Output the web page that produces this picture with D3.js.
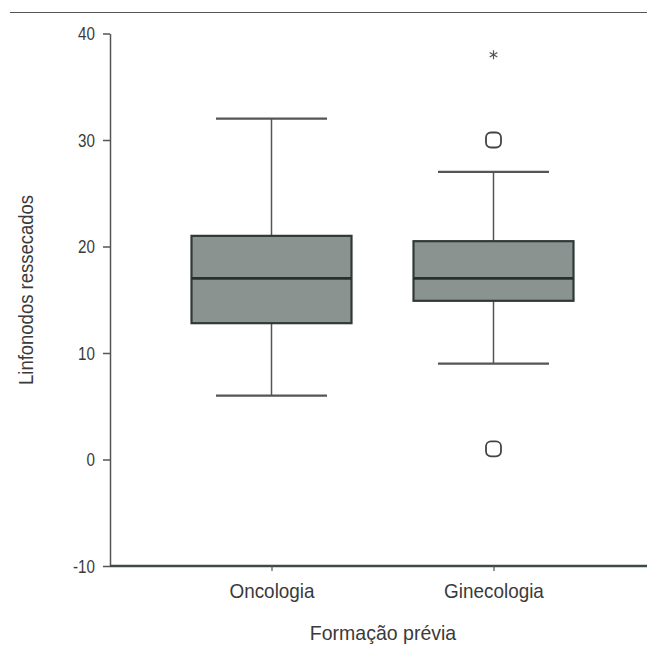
<!DOCTYPE html>
<html>
<head>
<meta charset="utf-8">
<script src="https://cdn.jsdelivr.net/npm/d3@7"></script>
<style>
  body { margin: 0; background: #fff; }
  svg text { font-family: "Liberation Sans Narrow", "Arial Narrow", "Liberation Sans", sans-serif; fill: #3a3a3a; }
</style>
</head>
<body>
<div id="chart"></div>
<script>
// data
var categories = ["Oncologia", "Ginecologia"];
var q1 = [12.8, 14.9];
var medians = [17, 17];
var q3 = [21, 20.5];
var whiskerLow = [6, 9];
var whiskerHigh = [32, 27];
var outliers = [[], [30, 1]];   // circles
var extremes = [[], [38]];      // asterisks
var yTicks = [-10, 0, 10, 20, 30, 40];

var width = 647, height = 645;
var boxWidth = 160, capWidth = 111;
var squeeze = 0.84;  // fake a condensed face

var svg = d3.select("#chart").append("svg")
  .attr("width", width)
  .attr("height", height);

// thin rule across the top
svg.append("line")
  .attr("x1", 10).attr("x2", width)
  .attr("y1", 12.5).attr("y2", 12.5)
  .attr("stroke", "#555").attr("stroke-width", 1.2);

var y = d3.scaleLinear().domain([-10, 40]).range([566, 33.5]);
var x = d3.scalePoint().domain(categories).range([271.5, 493.5]);
var axisX0 = 110;

// y axis
var yAxis = svg.append("g")
  .attr("transform", "translate(" + axisX0 + ",0)")
  .call(d3.axisLeft(y).tickValues(yTicks).tickFormat(String).tickSize(7).tickPadding(8).tickSizeOuter(0));
yAxis.select(".domain").attr("stroke", "#555").attr("stroke-width", 1.5);
yAxis.selectAll(".tick line").attr("stroke", "#555").attr("stroke-width", 1.5);
yAxis.selectAll(".tick text")
  .attr("font-size", 19)
  .attr("fill", "#3a3a3a")
  .attr("x", -15 / 0.8)
  .attr("transform", "scale(0.8,1)");

// x axis line and ticks
svg.append("line")
  .attr("x1", axisX0).attr("x2", width)
  .attr("y1", y(-10)).attr("y2", y(-10))
  .attr("stroke", "#3e4a47").attr("stroke-width", 2.5);
var xAxis = svg.append("g")
  .attr("transform", "translate(0," + y(-10) + ")")
  .call(d3.axisBottom(x).tickSize(5).tickPadding(12));
xAxis.select(".domain").remove();
xAxis.selectAll(".tick line").attr("stroke", "#555").attr("stroke-width", 1.2);
xAxis.selectAll(".tick text")
  .attr("font-size", 21)
  .attr("fill", "#3a3a3a")
  .attr("transform", "scale(0.9,1)");

// axis titles
svg.append("text")
  .attr("transform", "translate(383,640) scale(0.93,1)")
  .attr("text-anchor", "middle")
  .attr("font-size", 21)
  .text("Formação prévia");
svg.append("text")
  .attr("transform", "translate(33,290) rotate(-90) scale(0.88,1)")
  .attr("text-anchor", "middle")
  .attr("font-size", 21)
  .text("Linfonodos ressecados");

// boxes
var g = svg.selectAll(".box")
  .data(categories)
  .enter().append("g")
  .attr("class", "box");

g.append("line")
  .attr("x1", function (d) { return x(d); })
  .attr("x2", function (d) { return x(d); })
  .attr("y1", function (d, i) { return y(whiskerHigh[i]); })
  .attr("y2", function (d, i) { return y(whiskerLow[i]); })
  .attr("stroke", "#555").attr("stroke-width", 1.5);

g.selectAll(".cap")
  .data(function (d, i) { return [{c: d, v: whiskerLow[i]}, {c: d, v: whiskerHigh[i]}]; })
  .enter().append("line")
  .attr("x1", function (d) { return x(d.c) - capWidth / 2; })
  .attr("x2", function (d) { return x(d.c) + capWidth / 2; })
  .attr("y1", function (d) { return y(d.v); })
  .attr("y2", function (d) { return y(d.v); })
  .attr("stroke", "#555").attr("stroke-width", 2.2);

g.append("rect")
  .attr("x", function (d) { return x(d) - boxWidth / 2; })
  .attr("width", boxWidth)
  .attr("y", function (d, i) { return y(q3[i]); })
  .attr("height", function (d, i) { return y(q1[i]) - y(q3[i]); })
  .attr("fill", "#8b9391")
  .attr("stroke", "#2f3a37").attr("stroke-width", 2.2);

g.append("line")
  .attr("x1", function (d) { return x(d) - boxWidth / 2; })
  .attr("x2", function (d) { return x(d) + boxWidth / 2; })
  .attr("y1", function (d, i) { return y(medians[i]); })
  .attr("y2", function (d, i) { return y(medians[i]); })
  .attr("stroke", "#26302e").attr("stroke-width", 2.8);

g.selectAll(".outlier")
  .data(function (d, i) { return outliers[i].map(function (v) { return {c: d, v: v}; }); })
  .enter().append("rect")
  .attr("x", function (d) { return x(d.c) - 7.5; })
  .attr("y", function (d) { return y(d.v) - 7.5; })
  .attr("width", 15).attr("height", 15)
  .attr("rx", 5).attr("ry", 5)
  .attr("fill", "none")
  .attr("stroke", "#444").attr("stroke-width", 1.8);

g.selectAll(".extreme")
  .data(function (d, i) { return extremes[i].map(function (v) { return {c: d, v: v}; }); })
  .enter().append("path")
  .attr("transform", function (d) { return "translate(" + x(d.c) + "," + y(d.v) + ")"; })
  .attr("d", d3.symbol(d3.symbolAsterisk, 55))
  .attr("fill", "none")
  .attr("stroke", "#555").attr("stroke-width", 1.2);
</script>
</body>
</html>
